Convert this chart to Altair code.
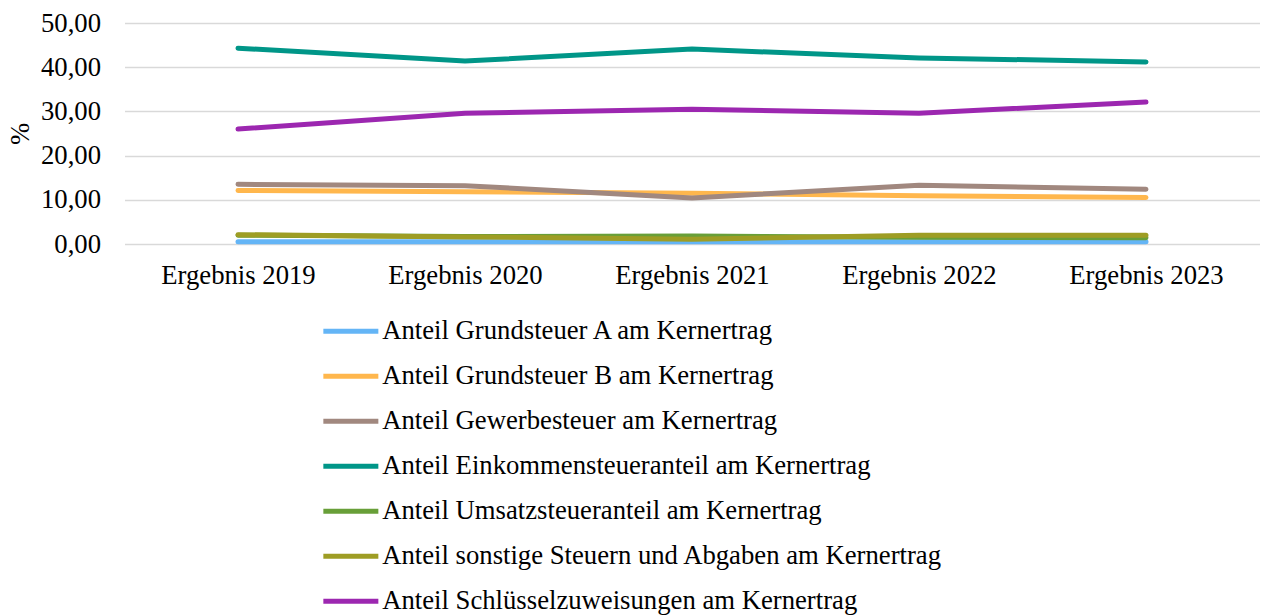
import altair as alt
import pandas as pd

years = ["Ergebnis 2019", "Ergebnis 2020", "Ergebnis 2021", "Ergebnis 2022", "Ergebnis 2023"]
series_names = [
    "Anteil Grundsteuer A am Kernertrag",
    "Anteil Grundsteuer B am Kernertrag",
    "Anteil Gewerbesteuer am Kernertrag",
    "Anteil Einkommensteueranteil am Kernertrag",
    "Anteil Umsatzsteueranteil am Kernertrag",
    "Anteil sonstige Steuern und Abgaben am Kernertrag",
    "Anteil Schlüsselzuweisungen am Kernertrag",
]
grundsteuer_a = [0.5, 0.5, 0.5, 0.5, 0.5]
grundsteuer_b = [12.1, 11.8, 11.5, 10.9, 10.5]
gewerbesteuer = [13.5, 13.2, 10.4, 13.3, 12.4]
einkommensteuer = [44.3, 41.4, 44.1, 42.1, 41.2]
umsatzsteuer = [2.0, 1.7, 1.8, 1.5, 1.4]
sonstige = [2.1, 1.6, 1.1, 2.0, 2.0]
schluessel = [26.0, 29.6, 30.5, 29.6, 32.1]
colors = ["#64B5F6", "#FFB74D", "#A1887F", "#009688", "#689F38", "#9E9D24", "#9C27B0"]

all_values = [grundsteuer_a, grundsteuer_b, gewerbesteuer, einkommensteuer,
              umsatzsteuer, sonstige, schluessel]
rows = []
for name, vals in zip(series_names, all_values):
    for y, v in zip(years, vals):
        rows.append({"Jahr": y, "Reihe": name, "Wert": v})
df = pd.DataFrame(rows)

font = "Liberation Serif"
fs = 26.7

chart = alt.Chart(df).mark_line(strokeWidth=5, strokeCap="round").encode(
    x=alt.X("Jahr:N", sort=years, title=None,
            scale=alt.Scale(paddingInner=0, paddingOuter=0.5),
            axis=alt.Axis(labelAngle=0, labelFontSize=fs, labelFont=font, labelColor="#000000",
                          ticks=False, domain=False, grid=False, labelPadding=18)),
    y=alt.Y("Wert:Q", title="%",
            scale=alt.Scale(domain=[0, 50]),
            axis=alt.Axis(values=[0, 10, 20, 30, 40, 50],
                          labelExpr="replace(format(datum.value, '.2f'), '.', ',')",
                          labelFontSize=fs, labelFont=font, labelColor="#000000",
                          ticks=False, domain=False, labelPadding=24,
                          gridColor="#d9d9d9", gridWidth=1.5,
                          titleFont=font, titleFontSize=fs, titleFontWeight="normal",
                          titleColor="#000000", titlePadding=6)),
    color=alt.Color("Reihe:N", sort=series_names,
                    scale=alt.Scale(domain=series_names, range=colors),
                    legend=alt.Legend(title=None, orient="none", legendX=213, legendY=295,
                                      direction="vertical",
                                      symbolType="M-2.75,0H2.75", symbolSize=400,
                                      symbolStrokeWidth=5,
                                      labelFont=font, labelFontSize=fs, labelColor="#000000",
                                      labelOffset=18, rowPadding=17, labelLimit=900)),
    order=alt.Order("Reihe:N"),
).properties(
    width=1135, height=221,
    autosize=alt.AutoSizeParams(type="none"),
    padding={"left": 116.5, "top": 15, "right": 0, "bottom": 380},
).configure_view(stroke=None)

chart.save("out.html", embed_options={"renderer": "svg", "actions": False})
